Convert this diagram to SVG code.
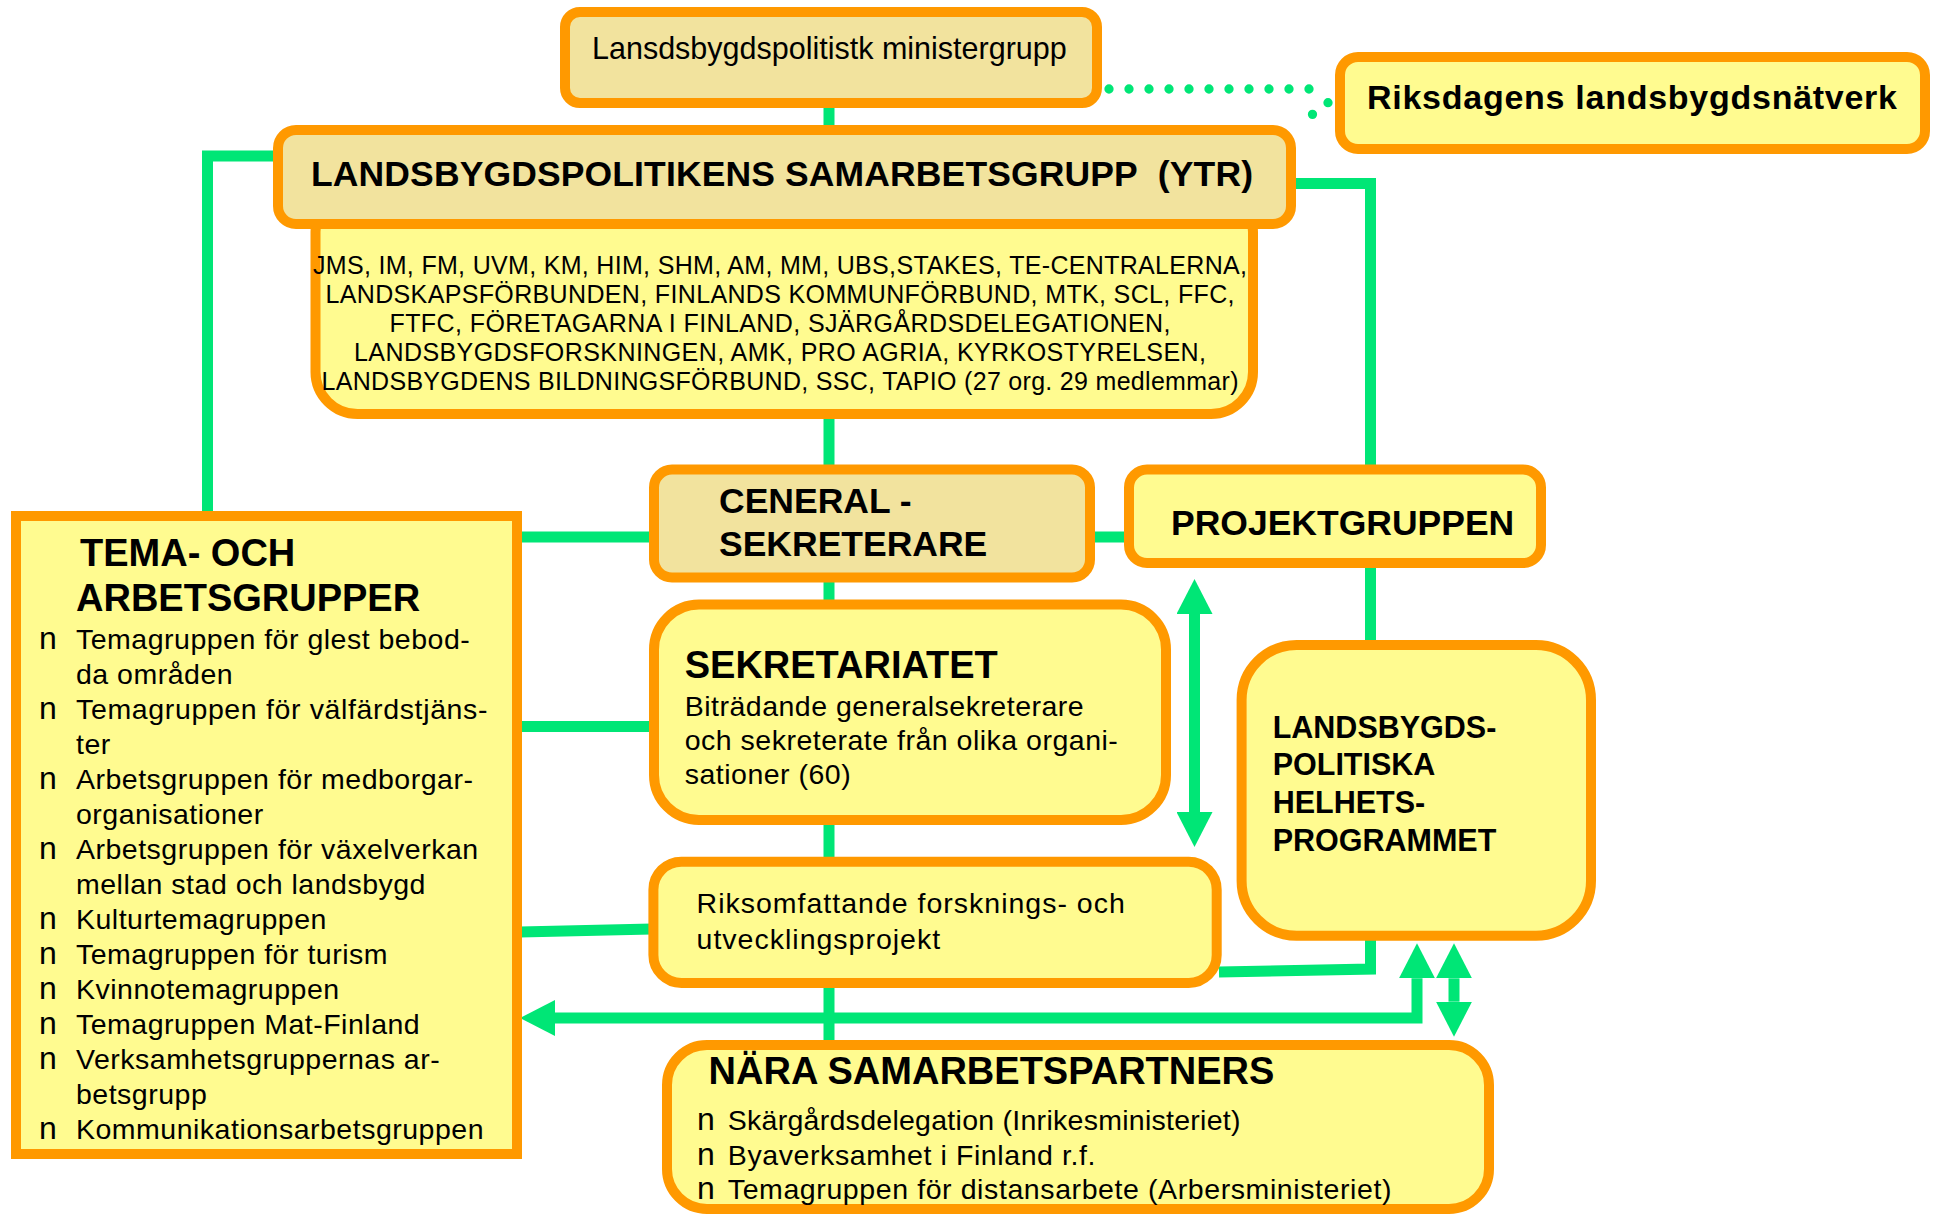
<svg xmlns="http://www.w3.org/2000/svg" width="1935" height="1214" viewBox="0 0 1935 1214">
<style>
  .box { stroke: #FF9900; stroke-width: 10; }
  .tan { fill: #F2E39E; }
  .yel { fill: #FFFB90; }
  .ln { fill: none; stroke: #00E676; stroke-width: 11; stroke-linejoin: miter; }
  .dot { fill: none; stroke: #00E676; stroke-width: 9.3; stroke-linecap: round; }
  text { font-family: "Liberation Sans", Arial, sans-serif; fill: #000; }
  .b { font-weight: bold; }
  .body { font-size: 28.5px; letter-spacing: 0.5px; }
  .bul { font-size: 32px; letter-spacing: 0; }
  .mem { font-size: 25px; text-anchor: middle; }
</style>
<defs>
  <marker id="ah" markerUnits="userSpaceOnUse" markerWidth="36" markerHeight="36" viewBox="0 0 36 36" refX="0" refY="18" orient="auto-start-reverse">
    <path d="M0,0 L35,18 L0,36 z" fill="#00E676"/>
  </marker>
</defs>

<g id="connectors">
  <path class="ln" d="M829,105 V1042"/>
  <path class="ln" d="M280,156 H207.5 V514"/>
  <path class="ln" d="M1292,183.5 H1370.5 V468"/>
  <path class="ln" d="M1370.5,565 V643"/>
  <path class="ln" d="M520,537 H1127"/>
  <path class="ln" d="M520,726.5 H652"/>
  <path class="ln" d="M520,932 L652,929"/>
  <path class="ln" d="M1219,972 L1370.5,969 V938"/>
  <path class="ln" d="M1417,978.3 V1018 H555" marker-start="url(#ah)" marker-end="url(#ah)"/>
  <path class="ln" d="M1454,978.3 V1001.7" marker-start="url(#ah)" marker-end="url(#ah)"/>
  <path class="ln" d="M1194.5,614 V812" marker-start="url(#ah)" marker-end="url(#ah)"/>
  <path class="dot" d="M1109,89 H1329" stroke-dasharray="0 20"/>
  <path class="dot" d="M1328,102.7 L1297,126" stroke-dasharray="0 19.4"/>
</g>

<g id="ministergrupp">
  <rect class="box tan" x="565" y="12" width="532" height="91" rx="15"/>
  <text x="592" y="59.3" font-size="30.5">Lansdsbygdspolitistk ministergrupp</text>
</g>

<g id="medlemmar">
  <rect class="box yel" x="315.5" y="190" width="937.5" height="224" rx="42"/>
  <text class="mem" x="780" y="273.5" textLength="934">JMS, IM, FM, UVM, KM, HIM, SHM, AM, MM, UBS,STAKES, TE-CENTRALERNA,</text>
  <text class="mem" x="780" y="302.7" textLength="909">LANDSKAPSFÖRBUNDEN, FINLANDS KOMMUNFÖRBUND, MTK, SCL, FFC,</text>
  <text class="mem" x="780" y="331.9" textLength="781">FTFC, FÖRETAGARNA I FINLAND, SJÄRGÅRDSDELEGATIONEN,</text>
  <text class="mem" x="780" y="361.1" textLength="852">LANDSBYGDSFORSKNINGEN, AMK, PRO AGRIA, KYRKOSTYRELSEN,</text>
  <text class="mem" x="780" y="390.3" textLength="917">LANDSBYGDENS BILDNINGSFÖRBUND, SSC, TAPIO (27 org. 29 medlemmar)</text>
</g>

<g id="samarbetsgrupp">
  <rect class="box tan" x="278" y="130" width="1013" height="94" rx="18"/>
  <text class="b" x="311" y="186" font-size="35.5" textLength="942">LANDSBYGDSPOLITIKENS SAMARBETSGRUPP&#160; (YTR)</text>
</g>

<g id="riksdagen">
  <rect class="box yel" x="1340" y="57" width="585" height="92" rx="18"/>
  <text class="b" x="1367" y="109.3" font-size="34" textLength="530">Riksdagens landsbygdsnätverk</text>
</g>

<g id="tema">
  <rect class="box yel" x="16" y="516" width="501" height="638"/>
  <text class="b" x="80" y="565.5" font-size="38">TEMA- OCH</text>
  <text class="b" x="76" y="611" font-size="38">ARBETSGRUPPER</text>
  <g class="body">
    <text class="bul" x="39" y="649">n</text><text x="76" y="649">Temagruppen för glest bebod-</text>
    <text x="76" y="684">da områden</text>
    <text class="bul" x="39" y="719">n</text><text x="76" y="719" textLength="412">Temagruppen för välfärdstjäns-</text>
    <text x="76" y="754">ter</text>
    <text class="bul" x="39" y="789">n</text><text x="76" y="789">Arbetsgruppen för medborgar-</text>
    <text x="76" y="824">organisationer</text>
    <text class="bul" x="39" y="859">n</text><text x="76" y="859">Arbetsgruppen för växelverkan</text>
    <text x="76" y="894">mellan stad och landsbygd</text>
    <text class="bul" x="39" y="929">n</text><text x="76" y="929">Kulturtemagruppen</text>
    <text class="bul" x="39" y="964">n</text><text x="76" y="964">Temagruppen för turism</text>
    <text class="bul" x="39" y="999">n</text><text x="76" y="999">Kvinnotemagruppen</text>
    <text class="bul" x="39" y="1034">n</text><text x="76" y="1034">Temagruppen Mat-Finland</text>
    <text class="bul" x="39" y="1069">n</text><text x="76" y="1069">Verksamhetsgruppernas ar-</text>
    <text x="76" y="1104">betsgrupp</text>
    <text class="bul" x="39" y="1139">n</text><text x="76" y="1139">Kommunikationsarbetsgruppen</text>
  </g>
</g>

<g id="generalsekreterare">
  <rect class="box tan" x="654" y="469.6" width="436" height="108" rx="18"/>
  <text class="b" x="719" y="513" font-size="35.5">CENERAL -</text>
  <text class="b" x="719" y="556" font-size="35.5">SEKRETERARE</text>
</g>

<g id="projektgruppen">
  <rect class="box yel" x="1129" y="469.6" width="412" height="93.4" rx="18"/>
  <text class="b" x="1171" y="535" font-size="35.5">PROJEKTGRUPPEN</text>
</g>

<g id="sekretariatet">
  <rect class="box yel" x="654" y="604.6" width="512" height="215.4" rx="45"/>
  <text class="b" x="684.7" y="678" font-size="38">SEKRETARIATET</text>
  <text class="body" x="684.7" y="716">Biträdande generalsekreterare</text>
  <text class="body" x="684.7" y="750">och sekreterate från olika organi-</text>
  <text class="body" x="684.7" y="784">sationer (60)</text>
</g>

<g id="forskningsprojekt">
  <rect class="box yel" x="653.4" y="861.7" width="563.3" height="121.3" rx="28"/>
  <text class="body" x="696.6" y="913.3" style="letter-spacing:1px">Riksomfattande forsknings- och</text>
  <text class="body" x="696.6" y="949.3" style="letter-spacing:1px">utvecklingsprojekt</text>
</g>

<g id="helhetsprogrammet">
  <rect class="box yel" x="1241.6" y="645" width="349.4" height="290.7" rx="55"/>
  <text class="b" x="1272.7" y="737.5" font-size="30.5">LANDSBYGDS-</text>
  <text class="b" x="1272.7" y="775" font-size="30.5">POLITISKA</text>
  <text class="b" x="1272.7" y="813" font-size="30.5">HELHETS-</text>
  <text class="b" x="1272.7" y="850.6" font-size="30.5">PROGRAMMET</text>
</g>

<g id="samarbetspartners">
  <rect class="box yel" x="667" y="1045" width="822" height="164" rx="40"/>
  <text class="b" x="708.6" y="1083.5" font-size="38">NÄRA SAMARBETSPARTNERS</text>
  <g class="body" style="letter-spacing:0.3px">
    <text class="bul" x="697" y="1130">n</text><text x="727.8" y="1130" textLength="513">Skärgårdsdelegation (Inrikesministeriet)</text>
    <text class="bul" x="697" y="1165">n</text><text x="727.8" y="1165" textLength="368">Byaverksamhet i Finland r.f.</text>
    <text class="bul" x="697" y="1199">n</text><text x="727.8" y="1199" textLength="664">Temagruppen för distansarbete (Arbersministeriet)</text>
  </g>
</g>
</svg>
